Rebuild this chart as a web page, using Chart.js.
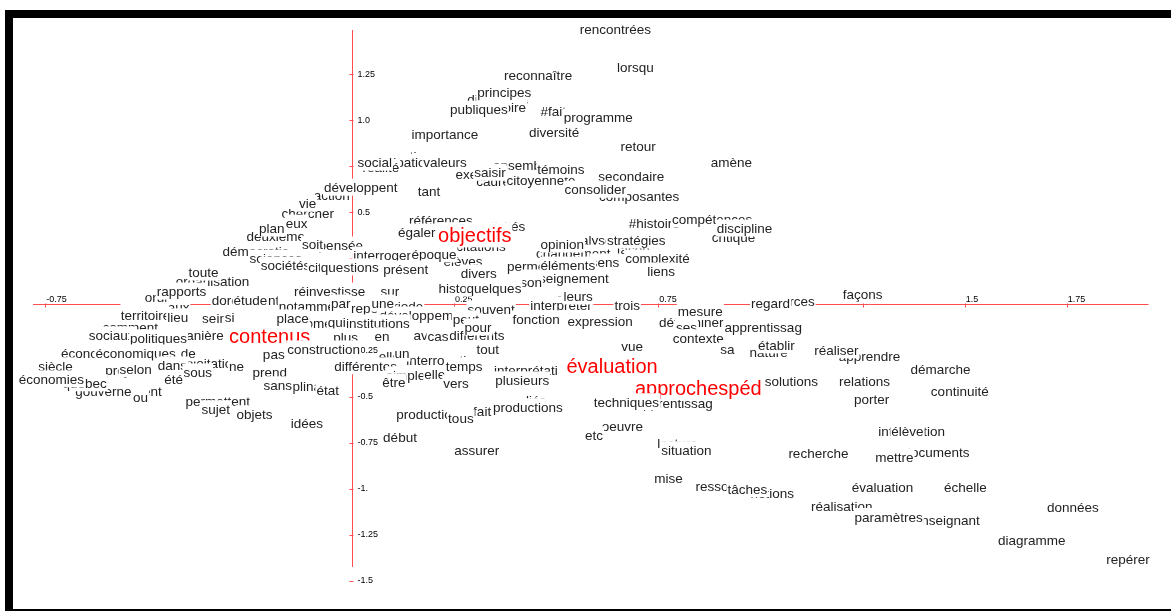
<!DOCTYPE html>
<html>
<head>
<meta charset="utf-8">
<script src="https://cdn.jsdelivr.net/npm/chart.js@4.4.1/dist/chart.umd.min.js"></script>
<style>
  html, body { margin: 0; padding: 0; background: #fff; overflow: hidden; }
  #wrap { position: relative; width: 1171px; height: 611px; }
  #frame { position: absolute; left: 5px; top: 10px; width: 1300px; height: 607px; box-sizing: border-box;
    border-left: 8px solid #000; border-top: 8px solid #000; border-bottom: 8px solid #000; pointer-events: none; }
</style>
</head>
<body>
<div id="wrap">
  <canvas id="plan" width="1171" height="611"></canvas>
  <div id="frame"></div>
</div>
<script>
// mots en arrière-plan (dessinés d'abord, en partie recouverts)
const motsFond = ['didactique','histoire','#fait','ensemble','exemple','cadre','conception','participation','réalité',
  'démocratie','sciences','deuxième','chercher','action','organisation','dorénavant','ordre','moyens','aux','comment',
  'manière','économie','projets','exploitation','siècle','gouvernement','québec','disciplinaire','permettent','pas',
  'pensée','références','activités','citations','interroger','élèves','permet','analyse','changement','façon',
  '#histoire','compétences','critique','divers','historiques','enseignement','sens','interpréter','repères','période',
  'développement','souvent','moment','institutions','avec','différents','peut','elles','interrogation','différentes',
  'interprétati','simple','déterminer','nature','apprendre','sources','apprentissag','production','liés','lecture',
  'ressources','notions','information','documents','enseignant','composantes','citoyenneté'];
const fondX = [0.358,0.373,0.493,0.417,0.316,0.346,0.115,0.110,0.071,
  -0.235,-0.186,-0.186,-0.108,-0.049,-0.341,-0.260,-0.468,-0.506,-0.424,-0.542,
  -0.373,-0.640,-0.554,-0.358,-0.725,-0.571,-0.654,-0.125,-0.328,-0.191,
  -0.027,0.218,0.365,0.316,0.074,0.272,0.431,0.581,0.542,0.689,
  0.740,0.882,0.934,0.311,0.292,0.525,0.620,0.512,0.054,0.120,
  0.181,0.341,-0.081,0.064,0.186,0.306,0.279,0.100,0.225,0.034,
  0.426,0.132,0.831,1.020,1.267,1.075,0.789,0.186,0.451,0.797,
  0.922,1.029,1.370,1.431,1.456,0.703,0.463];
const fondY = [1.111,1.068,1.046,0.753,0.705,0.670,0.802,0.770,0.741,
  0.287,0.249,0.369,0.493,0.591,0.125,0.022,0.038,-0.035,-0.016,-0.125,
  -0.168,-0.266,-0.358,-0.320,-0.336,-0.472,-0.428,-0.444,-0.526,-0.271,
  0.320,0.455,0.423,0.314,0.266,0.233,0.206,0.347,0.276,0.298,
  0.439,0.461,0.363,0.168,0.087,0.141,0.228,-0.005,-0.022,-0.011,
  -0.060,-0.027,-0.103,-0.103,-0.168,-0.168,-0.081,-0.282,-0.304,-0.336,
  -0.358,-0.385,-0.098,-0.260,-0.282,0.016,-0.537,-0.596,-0.520,-0.753,
  -0.986,-1.024,-0.688,-0.802,-1.171,0.585,0.672];

// variables (en rouge)
const variables = ['contenus','objectifs','évaluation','approchespéd'];
const varX = [-0.201, 0.301, 0.637, 0.848];
const varY = [-0.173, 0.374, -0.336, -0.455];

// mots au premier plan
const motsAvant = ['rencontrées','lorsqu','reconnaître','principes','publiques','programme','diversité','importance','retour','amène',
  'secondaire','consolider','témoins','saisir','valeurs','social','développent','tant','vie','eux',
  'plan','soit','sociétés','toute','rapports','étude','territoire','lieu','sein','si',
  'sociaux','politiques','économiques','de','selon','dans','ne','économies','été','sous',
  'ou','prend','sans','état','sujet','objets','idées','égaler','époque','cité',
  'questions','présent','opinion','éléments','stratégies','discipline','complexité','liens','son','quelques',
  'leurs','trois','fonction','expression','réinvestisse','sur','notamment','par','une','place',
  'qui','plus','en','construction','cas','pour','tout','un','temps','plusieurs',
  'être','elle','vers','mesure','ses','contexte','sa','apprentissag','établir','regard',
  'façons','réaliser','vue','solutions','relations','porter','techniques','démarche','continuité','productions',
  'fait','tous','début','assurer','oeuvre','etc','situation','mise','tâches','recherche',
  'évaluation','réalisation','paramètres','élève','mettre','échelle','données','diagramme','repérer'];
const avantX = [0.645,0.694,0.456,0.373,0.311,0.603,0.495,0.228,0.701,0.929,
  0.684,0.596,0.512,0.338,0.228,0.056,0.022,0.189,-0.108,-0.135,
  -0.196,-0.096,-0.162,-0.363,-0.417,-0.248,-0.505,-0.426,-0.336,-0.299,
  -0.588,-0.473,-0.529,-0.400,-0.529,-0.439,-0.282,-0.735,-0.436,-0.377,
  -0.517,-0.201,-0.181,-0.059,-0.333,-0.238,-0.110,0.159,0.201,-0.081,
  -0.005,0.132,0.515,0.529,0.696,0.961,0.748,0.757,0.439,0.348,
  0.554,0.674,0.451,0.608,-0.054,0.093,-0.096,-0.027,0.076,-0.145,
  -0.037,-0.015,0.074,-0.069,0.211,0.309,0.333,0.123,0.275,0.417,
  0.103,0.203,0.255,0.853,0.819,0.848,0.919,1.007,1.039,1.025,
  1.250,1.186,0.686,1.076,1.255,1.272,0.672,1.441,1.488,0.431,
  0.319,0.267,0.118,0.306,0.662,0.593,0.819,0.775,0.968,1.142,
  1.299,1.199,1.314,1.360,1.328,1.502,1.765,1.664,1.900];
const avantY = [1.491,1.285,1.241,1.149,1.057,1.014,0.932,0.921,0.856,0.770,
  0.694,0.623,0.732,0.715,0.770,0.770,0.634,0.612,0.547,0.439,
  0.412,0.325,0.211,0.173,0.070,0.022,-0.060,-0.070,-0.076,-0.070,
  -0.168,-0.184,-0.266,-0.266,-0.352,-0.331,-0.336,-0.407,-0.407,-0.369,
  -0.504,-0.369,-0.439,-0.466,-0.569,-0.596,-0.645,0.390,0.271,0.201,
  0.201,0.190,0.325,0.211,0.347,0.412,0.249,0.179,0.119,0.087,
  0.043,-0.005,-0.081,-0.092,0.070,0.070,-0.011,0.005,0.005,-0.076,
  -0.098,-0.179,-0.173,-0.244,-0.173,-0.125,-0.244,-0.266,-0.336,-0.412,
  -0.423,-0.379,-0.428,-0.038,-0.125,-0.184,-0.244,-0.125,-0.222,0.005,
  0.054,-0.249,-0.228,-0.417,-0.417,-0.515,-0.531,-0.352,-0.472,-0.558,
  -0.580,-0.618,-0.721,-0.791,-0.661,-0.710,-0.791,-0.943,-1.003,-0.808,
  -0.992,-1.095,-1.154,-0.688,-0.829,-0.992,-1.100,-1.279,-1.382];

// axes
const xTicks = [-0.75, -0.5, -0.25, 0.25, 0.5, 0.75, 1, 1.25, 1.5, 1.75];
const xTickLabels = ['-0.75','-0.5','-0.25','0.25','0.5','0.75','1.0','1.25','1.5','1.75'];
const yTicks = [1.25, 1, 0.75, 0.5, 0.25, -0.25, -0.5, -0.75, -1, -1.25, -1.5];
const yTickLabels = ['1.25','1.0','0.75','0.5','0.25','-0.25','-0.5','-0.75','-1.','-1.25','-1.5'];
const xAxisRange = [-0.78, 1.95];
const yAxisRange = [-1.425, 1.49];

const toPoints = (xs, ys) => xs.map((v, i) => ({ x: v, y: ys[i] }));

const axesPlugin = {
  id: 'axesCroix',
  beforeDatasetsDraw(chart) {
    const { ctx, scales: { x, y } } = chart;
    const ax = Math.round(x.getPixelForValue(0)) + 0.5;
    const ay = Math.floor(y.getPixelForValue(0)) + 0.5;
    ctx.save();
    ctx.strokeStyle = '#ff4d4d';
    ctx.lineWidth = 1;
    ctx.beginPath();
    ctx.moveTo(x.getPixelForValue(xAxisRange[0]), ay);
    ctx.lineTo(x.getPixelForValue(xAxisRange[1]), ay);
    ctx.moveTo(ax, y.getPixelForValue(yAxisRange[1]));
    ctx.lineTo(ax, y.getPixelForValue(yAxisRange[0]));
    xTicks.forEach(t => {
      const px = Math.round(x.getPixelForValue(t)) + 0.5;
      ctx.moveTo(px, ay - 1);
      ctx.lineTo(px, ay + 3);
    });
    yTicks.forEach(t => {
      const py = Math.round(y.getPixelForValue(t)) + 0.5;
      ctx.moveTo(ax - 3, py);
      ctx.lineTo(ax + 1, py);
    });
    ctx.stroke();

    ctx.fillStyle = '#000';
    ctx.font = '9px "Liberation Sans", Arial, sans-serif';
    ctx.textAlign = 'left';
    ctx.textBaseline = 'alphabetic';
    xTicks.forEach((t, i) => {
      ctx.fillText(xTickLabels[i], x.getPixelForValue(t) + 1, ay - 3);
    });
    ctx.textBaseline = 'middle';
    yTicks.forEach((t, i) => {
      ctx.fillText(yTickLabels[i], ax + 5, y.getPixelForValue(t));
    });
    ctx.restore();
  }
};

// étiquettes avec fond blanc, dans l'ordre des jeux de données
const labelPlugin = {
  id: 'etiquettes',
  afterDatasetsDraw(chart) {
    const ctx = chart.ctx;
    ctx.save();
    ctx.textAlign = 'center';
    ctx.textBaseline = 'alphabetic';
    chart.data.datasets.forEach((ds, i) => {
      const meta = chart.getDatasetMeta(i);
      const size = ds.fontSize;
      ctx.font = size + 'px "Liberation Sans", Arial, sans-serif';
      meta.data.forEach((pt, j) => {
        const txt = ds.mots[j];
        const w = ctx.measureText(txt).width;
        const base = pt.y + size * 0.33;
        ctx.fillStyle = '#fff';
        ctx.fillRect(pt.x - w / 2 - 1, base - size, w + 2, size * 1.26);
        ctx.fillStyle = ds.couleur;
        ctx.fillText(txt, pt.x, base);
      });
    });
    ctx.restore();
  }
};

new Chart(document.getElementById('plan'), {
  type: 'scatter',
  data: {
    datasets: [
      { data: toPoints(fondX, fondY), mots: motsFond, couleur: '#222', fontSize: 13.5, pointRadius: 0 },
      { data: toPoints(varX, varY), mots: variables, couleur: '#ff0000', fontSize: 20, pointRadius: 0 },
      { data: toPoints(avantX, avantY), mots: motsAvant, couleur: '#222', fontSize: 13.5, pointRadius: 0 }
    ]
  },
  options: {
    responsive: false,
    animation: false,
    devicePixelRatio: 1,
    layout: { padding: 0 },
    plugins: { legend: { display: false }, tooltip: { enabled: false } },
    scales: {
      x: { type: 'linear', min: -0.861, max: 2.005, display: false },
      y: { type: 'linear', min: -1.664, max: 1.653, display: false }
    }
  },
  plugins: [axesPlugin, labelPlugin]
});
</script>
</body>
</html>
